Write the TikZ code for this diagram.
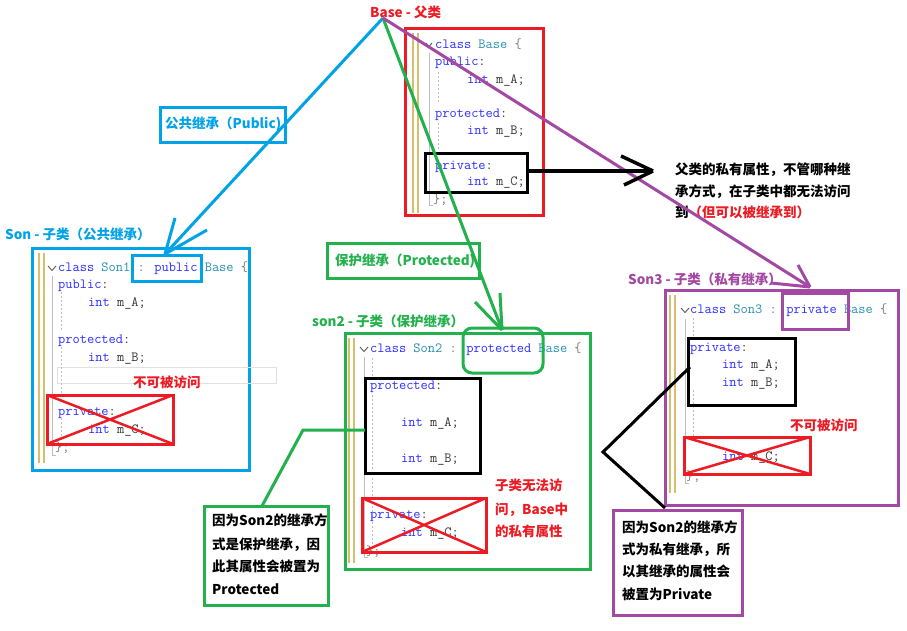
\documentclass[tikz,border=0pt]{standalone}
\usepackage{fontspec}
\newfontfamily\cjk{Noto Sans CJK SC}
\usetikzlibrary{calc}

% Paint-style outline colours
\definecolor{pred}{HTML}{ED1C24}
\definecolor{pgreen}{HTML}{22B14C}
\definecolor{pblue}{HTML}{00A2E8}
\definecolor{ppurple}{HTML}{A349A4}
% editor colours
\definecolor{kwblue}{RGB}{45,45,255}
\definecolor{tyteal}{RGB}{43,145,175}
\definecolor{idgray}{RGB}{55,55,55}
\definecolor{pugray}{RGB}{120,120,120}
\definecolor{barY}{RGB}{214,190,110}
\definecolor{treeG}{RGB}{190,190,190}
\definecolor{hiline}{RGB}{225,225,225}

\newcommand\cdkw[1]{\textcolor{kwblue}{#1}}
\newcommand\cdty[1]{\textcolor{tyteal}{#1}}
\newcommand\cdpu[1]{\textcolor{pugray}{#1}}

\tikzset{
  pbox/.style={draw=#1, line width=3pt, inner sep=0pt, outer sep=0pt},
  wh/.style 2 args={minimum width=#1pt, minimum height=#2pt},
  cdline/.style={font=\ttfamily\fontsize{14}{16}\selectfont, text=idgray,
    inner sep=0pt, anchor=west, text height=9pt, text depth=3pt},
  cjktxt/.style={font=\cjk\bfseries\fontsize{13.5}{16}\selectfont,
    inner sep=0pt, anchor=west, text height=11pt, text depth=2.5pt},
  ybar/.style={draw=barY, line width=2pt},
  tree/.style={draw=treeG, line width=1pt},
  guide/.style={draw=treeG, line width=0.8pt, dash pattern=on 2pt off 2pt},
  fold/.style={draw=black!65, line width=0.9pt},
  cross/.style={draw=pred, line width=2.5pt},
  conn/.style={line width=3pt, line join=miter},
}

\begin{document}
\begin{tikzpicture}[x=1pt,y=-1pt]
\path[use as bounding box, fill=white] (0,0) rectangle (907,630);

% ---------------- Base class ----------------
\node[cjktxt, text=pred] (basettl) at (370,13) {Base - 父类};
\node[pbox=pred, wh={138}{187}] (base) at (474,121.5) {};
\draw[ybar] (412.5,33) -- (412.5,213) (417.5,33) -- (417.5,213);
\draw[tree] (429,53) -- (429,205) -- (433,205);
\draw[guide] (438,72) -- (438,102) (438,123) -- (438,150);
\draw[fold] (426,43) -- (429,46.5) -- (432,43);
\node[cdline] (bl1) at (435,45) {\cdkw{class} \cdty{Base} \cdpu{\{}};
\node[cdline] (bl2) at (435,62) {\cdkw{public}:};
\node[cdline] (bl3) at (467,80) {\cdkw{int} m\_A;};
\node[cdline] (bl4) at (435,114) {\cdkw{protected}:};
\node[cdline] (bl5) at (467,131) {\cdkw{int} m\_B;};
\node[cdline] (bl6) at (435,166) {\cdkw{private}:};
\node[cdline] (bl7) at (467,182) {\cdkw{int} m\_C;};
\node[cdline] (bl8) at (433,200) {\cdpu{\};}};
\node[pbox=black, wh={102}{39}] (basepriv) at (476,172.5) {};

% note on private members
\node[cjktxt] (n1a) at (675,170) {父类的私有属性，不管哪种继};
\node[cjktxt] (n1b) at (675,192) {承方式，在子类中都无法访问};
\node[cjktxt] (n1c) at (675,213) {到\textcolor{pred}{（但可以被继承到）}};

% ---------------- Son1 (public) ----------------
\node[cjktxt, text=pblue] (s1ttl) at (5,235) {Son - 子类（公共继承）};
\node[pbox=pblue, wh={217}{222}] (son1) at (140.5,359) {};
\draw[draw=hiline, line width=1pt] (57,367) rectangle (276,383);
\draw[ybar] (38.5,253) -- (38.5,463) (43.5,253) -- (43.5,463);
\draw[tree] (52,276) -- (52,455) -- (56,455);
\draw[guide] (61,292) -- (61,330) (61,347) -- (61,400) (61,418) -- (61,440);
\draw[fold] (48,266) -- (52,270.5) -- (56,266);
\node[cdline] (s1l1) at (58,268) {\cdkw{class} \cdty{Son1} \cdpu{:} \cdkw{public} \cdty{Base} \cdpu{\{}};
\node[cdline] (s1l2) at (58,285) {\cdkw{public}:};
\node[cdline] (s1l3) at (88,303) {\cdkw{int} m\_A;};
\node[cdline] (s1l4) at (58,340) {\cdkw{protected}:};
\node[cdline] (s1l5) at (88,358) {\cdkw{int} m\_B;};
\node[cdline] (s1l6) at (58,412) {\cdkw{private}:};
\node[cdline] (s1l7) at (88,430) {\cdkw{int} m\_C;};
\node[cdline] (s1l8) at (55,448) {\cdpu{\};}};
\node[pbox=pblue, wh={69}{26}] (son1kw) at (166.5,268) {};
\node[pbox=pred, wh={126}{49}] (son1x) at (110,419.5) {};
\draw[cross] (son1x.north west) -- (son1x.south east) (son1x.south west) -- (son1x.north east);
\node[cjktxt, text=pred] (s1na) at (133,383) {不可被访问};

\node[pbox=pblue, wh={125}{35}] (pubtag) at (222.5,124.5) {};
\node[cjktxt, text=pblue] (pubtxt) at (165,124) {公共继承（Public)};

% ---------------- Son2 (protected) ----------------
\node[pbox=pgreen, wh={152}{35}] (prottag) at (403,260.5) {};
\node[cjktxt, text=pgreen] (prottxt) at (335,261) {保护继承（Protected)};
\node[cjktxt, text=pgreen] (s2ttl) at (312,322) {son2 - 子类（保护继承）};
\node[pbox=pgreen, wh={245}{236}] (son2) at (467.5,451) {};
\draw[ybar] (348.5,338) -- (348.5,563) (353.5,338) -- (353.5,563);
\draw[tree] (364,357) -- (364,557) -- (368,557);
\draw[guide] (372,358) -- (372,376) (372,395) -- (372,470) (372,478) -- (372,545);
\draw[fold] (360,347) -- (364,351.5) -- (368,347);
\node[cdline] (s2l1) at (370,349) {\cdkw{class} \cdty{Son2} \cdpu{:} \cdkw{protected} \cdty{Base} \cdpu{\{}};
\node[cdline] (s2l2) at (370,386) {\cdkw{protected}:};
\node[cdline] (s2l3) at (401,423) {\cdkw{int} m\_A;};
\node[cdline] (s2l4) at (401,459) {\cdkw{int} m\_B;};
\node[cdline] (s2l5) at (370,515) {\cdkw{private}:};
\node[cdline] (s2l6) at (401,533) {\cdkw{int} m\_C;};
\node[cdline] (s2l7) at (366,552) {\cdpu{\};}};
\node[pbox=pgreen, wh={80}{45}, rounded corners=9pt] (son2kw) at (503,350.5) {};
\node[pbox=black, wh={115}{95}] (son2blk) at (422.5,425.5) {};
\node[pbox=pred, wh={124}{54}] (son2x) at (424,525) {};
\draw[cross] (son2x.north west) -- (son2x.south east) (son2x.south west) -- (son2x.north east);
\node[cjktxt, text=pred] (s2na) at (495,486) {子类无法访};
\node[cjktxt, text=pred] (s2nb) at (495,510) {问，Base中};
\node[cjktxt, text=pred] (s2nc) at (495,532) {的私有属性};

\node[pbox=pgreen, wh={124}{99}] (gnote) at (266,555.5) {};
\node[cjktxt] (g1) at (212,521) {因为Son2的继承方};
\node[cjktxt] (g2) at (212,545) {式是保护继承，因};
\node[cjktxt] (g3) at (212,567) {此其属性会被置为};
\node[cjktxt] (g4) at (212,590) {Protected};
\coordinate (gbend) at (303,430);
\draw[conn, draw=pgreen] ($(son2blk.west)+(0,4.5)$) -- (gbend) -- ($(gnote.north)+(-4,0)$);

% ---------------- Son3 (private) ----------------
\node[cjktxt, text=ppurple] (s3ttl) at (628,280) {Son3 - 子类（私有继承）};
\node[pbox=ppurple, wh={233}{215}] (son3) at (781.5,397.5) {};
\draw[ybar] (670,295) -- (670,493) (675,295) -- (675,493);
\draw[tree] (685,319) -- (685,483) -- (689,483);
\draw[guide] (693,318) -- (693,338) (693,390) -- (693,440);
\draw[fold] (681,308) -- (685,312.5) -- (689,308);
\node[cdline] (s3l1) at (690,310) {\cdkw{class} \cdty{Son3} \cdpu{:} \cdkw{private} \cdty{Base} \cdpu{\{}};
\node[cdline] (s3l2) at (690,348) {\cdkw{private}:};
\node[cdline] (s3l3) at (722,365) {\cdkw{int} m\_A;};
\node[cdline] (s3l4) at (722,383) {\cdkw{int} m\_B;};
\node[cdline] (s3l5) at (722,457) {\cdkw{int} m\_C;};
\node[cdline] (s3l6) at (686,477) {\cdpu{\};}};
\node[pbox=ppurple, wh={66}{36}] (son3kw) at (815,311) {};
\node[pbox=black, wh={107}{67}] (son3blk) at (741.5,371.5) {};
\node[pbox=pred, wh={126}{37}] (son3x) at (747,455.5) {};
\draw[cross] (son3x.north west) -- (son3x.south east) (son3x.south west) -- (son3x.north east);
\node[cjktxt, text=pred] (s3na) at (790,426) {不可被访问};

\node[pbox=ppurple, wh={129}{105}] (pnote) at (677.5,562.5) {};
\node[cjktxt] (p1) at (622,528) {因为Son2的继承方};
\node[cjktxt] (p2) at (622,550) {式为私有继承，所};
\node[cjktxt] (p3) at (622,572) {以其继承的属性会};
\node[cjktxt] (p4) at (622,595) {被置为Private};
\coordinate (kbend) at (603,452);
\coordinate (kend) at (665,508);
\draw[conn, draw=black] ($(son3blk.west)+(2,-4.5)$) -- (kbend) -- (kend);

% ---------------- inheritance arrows ----------------
\coordinate (apex) at (383,18);
\coordinate (tipB) at (165,254);
\coordinate (tipG) at (502,330);
\coordinate (tipP) at (810,287);
\coordinate (tipK) at (653,171);
\draw[conn, draw=pblue] (apex) -- (tipB);
\draw[conn, draw=pblue] (tipB) -- +(10,-36) (tipB) -- +(42,-24);
\draw[conn, draw=pgreen] (apex) -- (tipG);
\draw[conn, draw=pgreen] (tipG) -- +(-27,-28) (tipG) -- +(-2,-37);
\draw[conn, draw=ppurple] (apex) -- (tipP);
\draw[conn, draw=ppurple] (tipP) -- +(-12,-22) (tipP) -- +(-39,-4);
\draw[conn, draw=black, line width=3.5pt] (basepriv.east |- tipK) -- (tipK);
\draw[conn, draw=black, line width=3.5pt] (tipK) -- +(-32,-15) (tipK) -- +(-29,14);
\end{tikzpicture}
\end{document}
